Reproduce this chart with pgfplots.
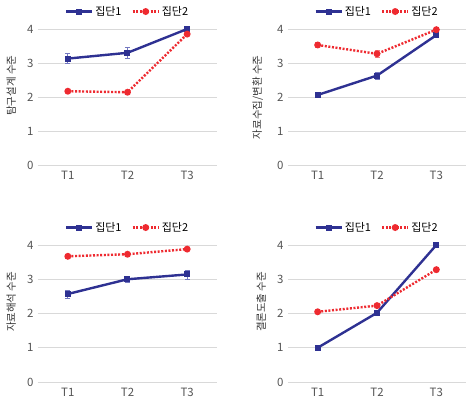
\documentclass[border=0pt]{standalone}
\usepackage{pgfplots}
\pgfplotsset{compat=1.18}
\usepackage{fontspec}
\setmainfont{Noto Sans CJK KR}

\definecolor{gblue}{HTML}{2E3192}
\definecolor{gbluelt}{HTML}{7478C0}
\definecolor{gred}{HTML}{EE2A30}
\definecolor{gredlt}{HTML}{F47C80}
\definecolor{gridgray}{HTML}{D9D9D9}
\definecolor{tickgray}{HTML}{555555}

\pgfplotsset{
  panel/.style={
    scale only axis,
    axis line style={draw=none},
    ymin=0, ymax=4,
    xmin=-0.5, xmax=2.5,
    ytick={0,1,2,3,4},
    xtick={0,1,2},
    xticklabels={T1,T2,T3},
    ymajorgrids,
    grid style={gridgray, line width=0.8bp},
    major tick length=0pt,
    clip=false,
    tick label style={font=\fontsize{11.5}{13}\selectfont, text=tickgray},
    /pgf/number format/assume math mode=true,
    xticklabel style={yshift=-3bp},
    yticklabel style={xshift=-1bp},
    label style={font=\fontsize{10.5}{12}\selectfont, text=black!80},
    legend style={
      at={(0.5,1)}, anchor=south, yshift=8bp,
      draw=none, fill=none,
      legend columns=2,
      font=\fontsize{11}{13}\selectfont,
      /tikz/every even column/.append style={column sep=8bp},
    },
    legend image code/.code={
      \draw[#1, mark repeat=2, mark phase=2] plot coordinates {(0bp,0bp) (13bp,0bp) (26bp,0bp)};
    },
  },
  g1/.style={
    gblue, line width=2.4bp, mark=square*, mark size=1.8bp,
    mark options={solid},
    error bars/y dir=both, error bars/y explicit,
    error bars/error bar style={gbluelt, line width=0.7bp},
    error bars/error mark options={rotate=90, mark size=2.5bp, gbluelt, line width=0.7bp},
  },
  g2/.style={
    gred, line width=2.4bp, dash pattern=on 2bp off 1.6bp,
    mark=*, mark size=2.2bp, mark options={solid},
    error bars/y dir=both, error bars/y explicit,
    error bars/error bar style={gredlt, line width=0.7bp, solid},
    error bars/error mark options={rotate=90, mark size=2.5bp, gredlt, line width=0.7bp, solid},
  },
}

% x  mean  error
\pgfplotstableread{
x y e
0 3.13 0.15
1 3.30 0.17
2 4.00 0.03
}\designA
\pgfplotstableread{
x y e
0 2.17 0.04
1 2.14 0.04
2 3.85 0.05
}\designB
\pgfplotstableread{
x y e
0 2.06 0.05
1 2.63 0.10
2 3.82 0.06
}\collectA
\pgfplotstableread{
x y e
0 3.53 0.07
1 3.27 0.10
2 3.98 0.04
}\collectB
\pgfplotstableread{
x y e
0 2.57 0.12
1 3.00 0.08
2 3.14 0.13
}\interpA
\pgfplotstableread{
x y e
0 3.67 0.05
1 3.73 0.04
2 3.88 0.04
}\interpB
\pgfplotstableread{
x y e
0 1.00 0.02
1 2.02 0.03
2 4.00 0.02
}\conclA
\pgfplotstableread{
x y e
0 2.05 0.04
1 2.23 0.05
2 3.28 0.06
}\conclB

\begin{document}
\begin{tikzpicture}
\path[use as bounding box] (0,0) rectangle (472bp,404bp);

\begin{axis}[panel, at={(38bp,239bp)}, anchor=south west,
  width=179bp, height=136bp,
  ylabel={탐구설계 수준},
  y label style={at={(axis description cs:-0.15,0.83)}, anchor=east, rotate=0}]
  \addplot[g1] table[x=x, y=y, y error=e] {\designA};
  \addlegendentry{집단1}
  \addplot[g2] table[x=x, y=y, y error=e] {\designB};
  \addlegendentry{집단2}
\end{axis}

\begin{axis}[panel, at={(288bp,239bp)}, anchor=south west,
  width=178bp, height=136bp,
  ylabel={자료수집/변환 수준},
  y label style={at={(axis description cs:-0.17,0.83)}, anchor=east, rotate=0}]
  \addplot[g1] table[x=x, y=y, y error=e] {\collectA};
  \addlegendentry{집단1}
  \addplot[g2] table[x=x, y=y, y error=e] {\collectB};
  \addlegendentry{집단2}
\end{axis}

\begin{axis}[panel, at={(38bp,22bp)}, anchor=south west,
  width=179bp, height=137bp,
  ylabel={자료해석 수준},
  y label style={at={(axis description cs:-0.15,0.83)}, anchor=east, rotate=0}]
  \addplot[g1] table[x=x, y=y, y error=e] {\interpA};
  \addlegendentry{집단1}
  \addplot[g2] table[x=x, y=y, y error=e] {\interpB};
  \addlegendentry{집단2}
\end{axis}

\begin{axis}[panel, at={(288bp,22bp)}, anchor=south west,
  width=178bp, height=137bp,
  ylabel={결론도출 수준},
  y label style={at={(axis description cs:-0.15,0.83)}, anchor=east, rotate=0}]
  \addplot[g1] table[x=x, y=y, y error=e] {\conclA};
  \addlegendentry{집단1}
  \addplot[g2] table[x=x, y=y, y error=e] {\conclB};
  \addlegendentry{집단2}
\end{axis}
\end{tikzpicture}
\end{document}
